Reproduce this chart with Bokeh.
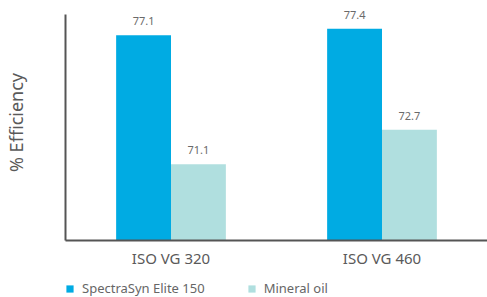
from bokeh.plotting import figure
from bokeh.layouts import column
from bokeh.models import ColumnDataSource, FactorRange, Range1d, Legend, LegendItem, LabelSet
from bokeh.transform import dodge
from bokeh.core.properties import value
from bokeh.embed import file_html
from bokeh.resources import INLINE

categories = ["ISO VG 320", "ISO VG 460"]
spectrasyn = [77.1, 77.4]
mineral = [71.1, 72.7]
series_names = ["SpectraSyn Elite 150", "Mineral oil"]

BLUE = "#00ABE3"
TEAL = "#B0DFDF"
FONT = "Noto Sans"
Y0, Y_AXIS_TOP, Y1 = 67.55, 78.06, 78.525

src = ColumnDataSource(data=dict(
    cat=categories,
    a=spectrasyn,
    b=mineral,
    a_txt=[f"{v:.1f}" for v in spectrasyn],
    b_txt=[f"{v:.1f}" for v in mineral],
))

main = figure(width=487, height=272, output_backend="svg", toolbar_location=None,
              x_range=FactorRange(factors=categories, range_padding=0),
              y_range=Range1d(Y0, Y1),
              min_border_left=65, min_border_right=0, min_border_top=4, min_border_bottom=32)
main.outline_line_color = None
main.grid.visible = False
main.background_fill_color = "white"
main.border_fill_color = "white"

W = 0.26
main.vbar(x=dodge("cat", -0.13, range=main.x_range), top="a", bottom=Y0, width=W,
          source=src, fill_color=BLUE, line_color=None)
main.vbar(x=dodge("cat", 0.13, range=main.x_range), top="b", bottom=Y0, width=W,
          source=src, fill_color=TEAL, line_color=None)

for col, txt, off in (("a", "a_txt", -0.13), ("b", "b_txt", 0.13)):
    main.add_layout(LabelSet(x=dodge("cat", off, range=main.x_range), y=col, text=txt, source=src,
                             y_offset=10, text_align="center", text_baseline="alphabetic",
                             text_font=value(FONT), text_font_size=value("11px"),
                             text_color="#6a6a6a"))

# axes
main.yaxis.ticker = []
main.yaxis.bounds = (Y0, Y_AXIS_TOP)
main.yaxis.major_tick_line_color = None
main.yaxis.minor_tick_line_color = None
main.yaxis.major_tick_out = 0
main.yaxis.major_tick_in = 0
main.yaxis.major_label_standoff = 0
main.yaxis.major_label_text_font_size = "0px"
main.yaxis.axis_line_width = 2
main.yaxis.axis_line_color = "#555555"
main.yaxis.axis_label = "% Efficiency"
main.yaxis.axis_label_text_font = FONT
main.yaxis.axis_label_text_font_size = "18px"
main.yaxis.axis_label_text_font_style = "normal"
main.yaxis.axis_label_text_color = "#5a5a5a"
main.yaxis.axis_label_standoff = 38

main.xaxis.major_tick_line_color = None
main.xaxis.minor_tick_line_color = None
main.xaxis.major_tick_out = 0
main.xaxis.major_tick_in = 0
main.xaxis.axis_line_width = 2
main.xaxis.axis_line_color = "#555555"
main.xaxis.major_label_text_font = FONT
main.xaxis.major_label_text_font_size = "15px"
main.xaxis.major_label_text_color = "#5a5a5a"
main.xaxis.major_label_standoff = 7

# legend strip below the chart (keys drawn from out-of-view copies of the series)
leg = figure(width=487, height=25, output_backend="svg", toolbar_location=None,
             x_axis_type=None, y_axis_type=None,
             x_range=Range1d(0, 1), y_range=Range1d(0, 1),
             min_border_left=0, min_border_right=0, min_border_top=0, min_border_bottom=0)
leg.outline_line_color = None
leg.grid.visible = False
k1 = leg.vbar(x=spectrasyn, top=spectrasyn, width=0.1, fill_color=BLUE, line_color=None)
k2 = leg.vbar(x=mineral, top=mineral, width=0.1, fill_color=TEAL, line_color=None)
legend = Legend(items=[LegendItem(label=series_names[0], renderers=[k1]),
                       LegendItem(label=series_names[1], renderers=[k2])],
                orientation="horizontal", location=(0, 0),
                glyph_width=9, glyph_height=9, label_height=16, label_standoff=8,
                spacing=42, padding=0, margin=0,
                label_text_font=FONT, label_text_font_size="13px", label_text_color="#666666",
                background_fill_alpha=0, border_line_color=None)
leg.add_layout(legend, "center")

p = column(main, leg, spacing=0)
open("out.html", "w").write(file_html(p, INLINE))
